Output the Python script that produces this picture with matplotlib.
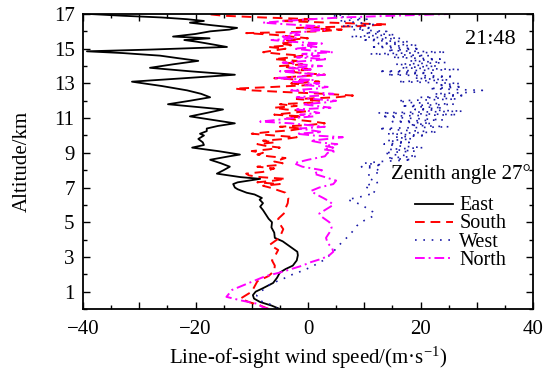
import matplotlib
matplotlib.use('Agg')
import matplotlib.pyplot as plt
from matplotlib.ticker import MultipleLocator, FixedLocator

plt.rcParams['font.family'] = ['Liberation Serif', 'DejaVu Serif']
plt.rcParams['mathtext.fontset'] = 'custom'
plt.rcParams['mathtext.rm'] = 'Liberation Serif'
plt.rcParams['mathtext.it'] = 'Liberation Serif:italic'

# ---------------- data ----------------
east_alt = [0.0, 0.2, 0.4, 0.6, 0.8, 1.0, 1.2, 1.5, 1.8, 2.1, 2.3, 2.5, 2.8, 3.1, 3.3, 3.6, 3.9, 4.1,
            4.4, 4.7, 5.0, 5.2, 5.5, 5.7, 5.9, 6.1, 6.3, 6.4, 6.6, 6.7, 6.9, 7.0, 7.2, 7.3, 7.5, 7.6,
            7.8, 8.0, 8.2, 8.4, 8.6, 8.8, 8.9, 9.1, 9.3, 9.45, 9.6, 9.8, 10.0, 10.1, 10.25, 10.4,
            10.55, 10.7, 10.9, 11.1, 11.3, 11.5, 11.65, 11.8, 12.0, 12.2, 12.4, 12.6, 12.85, 13.1,
            13.3, 13.5, 13.7, 13.9, 14.1, 14.3, 14.45, 14.6, 14.75, 14.85, 14.95, 15.1, 15.25, 15.4,
            15.5, 15.6, 15.7, 15.85, 16.0, 16.1, 16.2, 16.35, 16.5, 16.6, 16.7, 16.8, 16.9, 17.0]
east_val = [-5.0, -6.5, -8.5, -9.6, -9.8, -9.3, -8.0, -6.2, -5.5, -5.0, -4.0, -2.7, -2.0, -1.8, -1.9,
            -3.2, -4.5, -5.9, -6.0, -6.5, -6.4, -7.0, -7.6, -8.0, -8.5, -8.0, -8.6, -8.2, -9.5, -10.9,
            -12.5, -13.0, -13.3, -12.5, -8.5, -12.0, -16.2, -15.0, -13.9, -15.5, -17.4, -14.0, -12.1,
            -16.0, -20.6, -18.5, -18.7, -19.5, -18.5, -19.2, -18.0, -18.0, -16.0, -13.0, -17.0, -21.0,
            -18.0, -15.1, -20.0, -24.9, -21.0, -17.4, -19.0, -21.5, -26.0, -31.3, -22.0, -13.0, -21.0,
            -28.1, -24.0, -19.5, -23.0, -26.3, -33.0, -39.3, -28.0, -14.4, -17.0, -19.7, -22.0, -17.5,
            -24.0, -20.0, -17.4, -14.0, -12.6, -17.0, -21.0, -18.5, -21.5, -26.0, -33.0, -38.8]

south_alt = [0.0, 0.2, 0.4, 0.6, 0.8, 1.0, 1.3, 1.6, 1.9, 2.2, 2.5, 2.8, 3.1, 3.4, 3.7, 4.0, 4.3,
             4.6, 4.9, 5.2, 5.5, 5.8, 6.1, 6.4, 6.7,
             7.0, 7.1, 7.2, 7.3, 7.4, 7.5, 7.6, 7.7, 7.8, 7.9, 8.0, 8.1, 8.2, 8.3, 8.4, 8.5, 8.6,
             8.7, 8.8, 8.9, 9.0, 9.1, 9.2, 9.3, 9.4, 9.5, 9.6, 9.7, 9.8, 9.9, 10.0, 10.1, 10.2,
             10.3, 10.4, 10.5, 10.6, 10.7, 10.8, 10.9, 11.0, 11.1, 11.2, 11.3, 11.4, 11.5, 11.6,
             11.7, 11.8, 11.9, 12.0, 12.1, 12.2, 12.3, 12.4, 12.5, 12.6, 12.7, 12.8, 12.9, 13.0,
             13.1, 13.2, 13.3, 13.4, 13.5, 13.6, 13.7, 13.8, 13.9, 14.0, 14.1, 14.2, 14.3, 14.4,
             14.5, 14.6, 14.7, 14.8, 14.9, 15.0, 15.1, 15.2, 15.3, 15.4, 15.5, 15.6, 15.7, 15.8,
             15.9, 16.0, 16.1, 16.2, 16.3, 16.4, 16.5, 16.6, 16.7, 16.8, 16.9, 17.0]
south_val = [-7.0, -8.5, -10.5, -12.0, -11.0, -10.0, -9.5, -9.0, -7.0, -6.0, -5.9, -6.4, -5.8, -5.3,
             -6.8, -5.5, -4.8, -4.4, -5.0, -5.3, -4.3, -4.0, -3.6, -3.5, -4.0,
             -6.8, -8.0, -5.0, -9.0, -6.0, -4.0, -8.5, -10.5, -11.0, -8.0, -7.0, -6.0, -9.0, -5.0,
             -4.5, -6.0, -5.0, -4.0, -7.0, -9.0, -8.0, -10.0, -7.0, -5.0, -7.5, -9.0, -6.0, -8.0,
             -4.0, -2.0, -6.0, -10.0, -7.0, -3.0, -1.0, -5.0, 0.0, 3.0, 1.0, -2.0, -4.0, -1.0, -6.0,
             -3.0, 0.0, -4.0, -6.0, -2.0, -5.0, 1.0, 2.0, -2.0, 5.0, 8.0, 3.0, -4.0, -10.0, -13.0,
             -6.0, 0.0, -3.0, 2.0, -1.0, -6.0, -2.0, 3.0, -1.0, -4.0, 1.0, -3.0, -5.0, -1.0, -4.0,
             -2.0, -6.0, -3.0, -1.0, -5.0, -8.0, -6.0, -4.0, -7.0, -3.0, -5.0, -2.0, -4.0, 0.0, -3.0,
             -6.0, -11.0, 2.0, 6.0, -2.0, 9.0, 14.0, 4.0, -5.0, 1.0, -8.0, -15.0, -18.0]

west_alt = [0.0, 0.2, 0.4, 0.6, 0.8, 1.0, 1.2, 1.4, 1.6, 1.8, 2.0, 2.2, 2.4, 2.6, 2.8, 3.0, 3.3,
            3.6, 3.9, 4.2, 4.5, 4.8, 5.1, 5.4, 5.6, 5.8, 6.0, 6.2, 6.3, 6.5, 6.7, 6.9, 7.1, 7.3,
            7.5, 7.7, 7.9, 8.1, 8.2, 8.3, 8.4,
            8.5, 8.6, 8.7, 8.8, 8.9, 9.0, 9.1, 9.2, 9.3, 9.4, 9.5, 9.6, 9.7, 9.8, 9.9, 10.0, 10.1,
            10.2, 10.3, 10.4, 10.5, 10.6, 10.7, 10.8, 10.9, 11.0, 11.1, 11.2, 11.3, 11.4, 11.5,
            11.6, 11.7, 11.8, 11.9, 12.0, 12.1, 12.2, 12.3, 12.4, 12.5, 12.6, 12.7, 12.8, 12.9,
            13.0, 13.1, 13.2, 13.3, 13.4, 13.5, 13.6, 13.7, 13.8, 13.9, 14.0, 14.1, 14.2, 14.3,
            14.4, 14.5, 14.6, 14.7, 14.8, 14.9, 15.0, 15.1, 15.2, 15.3, 15.4, 15.5, 15.6, 15.7,
            15.8, 15.9, 16.0, 16.1, 16.2, 16.3, 16.4, 16.5, 16.6, 16.7, 16.8, 16.9, 17.0]
west_val = [-5.5, -6.0, -8.0, -9.0, -9.1, -8.5, -7.5, -6.8, -5.5, -4.0, -2.7, -1.0, 0.4, 1.6, 2.7,
            3.5, 4.5, 5.3, 6.2, 7.2, 8.0, 8.7, 10.0, 11.9, 11.5, 10.5, 9.5, 8.0, 7.0, 9.8, 12.0,
            11.0, 10.0, 12.5, 11.0, 10.5, 13.0, 12.0, 9.5, 13.3, 10.0,
            13.0, 18.5, 14.0, 19.5, 15.0, 13.5, 19.0, 14.5, 20.5, 16.0, 13.5, 18.0, 14.0, 18.5,
            15.5, 21.0, 14.0, 23.0, 17.0, 12.5, 25.0, 18.0, 22.0, 15.0, 24.0, 17.5, 13.0, 26.5,
            12.5, 27.5, 19.0, 24.0, 16.5, 26.0, 18.0, 16.0, 26.5, 20.0, 28.0, 22.5, 30.0, 31.0,
            21.5, 27.5, 23.0, 27.0, 16.0, 25.0, 19.0, 26.0, 14.0, 22.0, 12.5, 27.0, 16.5, 23.0,
            15.5, 24.5, 18.0, 23.5, 15.0, 21.5, 11.0, 24.5, 14.0, 20.0, 11.0, 19.5, 12.5, 18.0,
            9.5, 16.5, 7.5, 15.5, 10.0, 14.0, 8.0, 11.5, 6.0, 12.0, 9.0, 5.5, 10.5, 7.0, 4.5, 8.0]

north_alt = [0.0, 0.1, 0.3, 0.5, 0.7, 0.9, 1.1, 1.3, 1.5, 1.7, 1.9, 2.1, 2.3, 2.5, 2.7, 2.9, 3.1,
             3.3, 3.5, 3.8, 4.1, 4.4, 4.7, 5.0, 5.3, 5.5, 5.8, 6.0, 6.2, 6.4, 6.6, 6.8, 7.0, 7.2,
             7.4, 7.6, 7.8, 8.0, 8.2, 8.4, 8.6, 8.8,
             9.0, 9.1, 9.2, 9.3, 9.4, 9.5, 9.6, 9.7, 9.8, 9.9, 10.0, 10.1, 10.2, 10.3, 10.4, 10.5,
             10.6, 10.7, 10.8, 10.9, 11.0, 11.1, 11.2, 11.3, 11.4, 11.5, 11.6, 11.7, 11.8, 11.9,
             12.0, 12.1, 12.2, 12.3, 12.4, 12.5, 12.6, 12.7, 12.8, 12.9, 13.0, 13.1, 13.2, 13.3,
             13.4, 13.5, 13.6, 13.7, 13.8, 13.9, 14.0, 14.1, 14.2, 14.3, 14.4, 14.5, 14.6, 14.7,
             14.8, 14.9, 15.0, 15.1, 15.2, 15.3, 15.4, 15.5, 15.6, 15.7, 15.8, 15.9, 16.0, 16.1,
             16.2, 16.3, 16.4, 16.5, 16.6, 16.7, 16.8, 16.9, 17.0]
north_val = [-7.0, -8.0, -9.0, -12.0, -14.5, -14.0, -13.5, -12.0, -10.5, -9.0, -7.5, -5.0, -3.0,
             -1.0, 0.5, 2.5, 3.8, 4.5, 4.3, 3.5, 3.2, 3.8, 4.2, 3.8, 2.5, 2.0, 3.5, 4.5, 3.8, 2.7,
             1.5, 0.5, 2.0, 4.5, 5.0, 3.0, 1.0, 2.5, -1.0, -2.5, 0.0, 3.0,
             3.5, 5.0, 2.7, 4.5, 3.0, 5.2, 2.0, 0.4, 3.5, 6.2, 1.0, -2.0, 2.5, 0.5, -1.5, 3.0, 0.0,
             -3.0, -8.5, -5.5, -2.7, 1.0, -1.4, 2.0, 0.5, -2.0, 4.0, 1.5, -1.0, 3.0, 5.0, 1.0, -2.0,
             2.0, 4.5, 0.5, -3.0, 1.5, 3.5, -0.5, 2.0, -3.0, 1.0, -6.0, -1.0, 3.0, -2.0, -5.0, 0.5,
             -3.5, 2.5, -1.5, -4.5, 0.0, 3.5, -2.0, 2.0, -1.0, 4.5, 0.5, -2.5, 1.5, -1.0, 2.5, -3.0,
             -6.5, -2.0, -4.5, -1.5, -3.5, 0.5, 3.0, -1.0, 2.0, -3.5, -8.0, -4.0, 0.5, 6.0, 15.0,
             25.0]

series_names = ['East', 'South', 'West', 'North']
x_ticks = [-40, -30, -20, -10, 0, 10, 20, 30, 40]
x_tick_labels = ['\u221240', '', '\u221220', '', '0', '', '20', '', '40']
y_ticks = [1, 3, 5, 7, 9, 11, 13, 15, 17]

# ---------------- styles ----------------
styles = {
    'East': dict(color='black', lw=1.3, ls='-'),
    'South': dict(color='#ff0000', lw=1.4, ls=(0, (5, 3))),
    'West': dict(color='#1a1aa6', lw=1.2, ls=(0, (1, 4))),
    'North': dict(color='#ff00ff', lw=1.4, ls=(0, (5, 2, 1, 2))),
}
data = {
    'East': (east_val, east_alt),
    'South': (south_val, south_alt),
    'West': (west_val, west_alt),
    'North': (north_val, north_alt),
}

fig = plt.figure(figsize=(5.46, 3.77), dpi=100)
ax = fig.add_axes([83 / 546, (377 - 309) / 377, 450 / 546, 295 / 377])

for name in series_names:
    xv, yv = data[name]
    ax.plot(xv, yv, **styles[name])

ax.set_xlim(-40, 40)
ax.set_ylim(0, 17)
ax.xaxis.set_major_locator(FixedLocator(x_ticks))
ax.set_xticklabels(x_tick_labels)
ax.xaxis.set_minor_locator(MultipleLocator(5))
ax.yaxis.set_major_locator(FixedLocator(y_ticks))
ax.yaxis.set_minor_locator(MultipleLocator(1))
ax.tick_params(which='both', direction='in', top=True, right=True, width=1.0, labelsize=15)
ax.tick_params(which='major', length=5)
ax.tick_params(which='minor', length=3)
ax.tick_params(axis='x', pad=8)
ax.tick_params(axis='y', pad=6)
for sp in ax.spines.values():
    sp.set_linewidth(1.3)

ax.set_xlabel('Line-of-sight wind speed/(m\u00b7s$^{\u22121}$)', fontsize=15, labelpad=4)
ax.set_ylabel('Altitude/km', fontsize=15, labelpad=16)

ax.text(0.962, 0.90, '21:48', transform=ax.transAxes, fontsize=16, ha='right', va='baseline')
ax.text(0.995, (309 - 179) / 295, 'Zenith angle 27\u00b0', transform=ax.transAxes, fontsize=15,
        ha='right', va='baseline')

# manual legend
row_px = [203.5, 221.5, 240.0, 258.0]
for name, py in zip(series_names, row_px):
    yf = (309 - py) / 295
    st = styles[name]
    ax.plot([0.738, 0.822], [yf, yf], transform=ax.transAxes, color=st['color'], lw=st['lw'],
            ls=st['ls'], clip_on=False)
    ax.text(0.836, yf - 7.0 / 295, name, transform=ax.transAxes, fontsize=14.5, ha='left',
            va='baseline')

fig.savefig('out.png', dpi=100)
